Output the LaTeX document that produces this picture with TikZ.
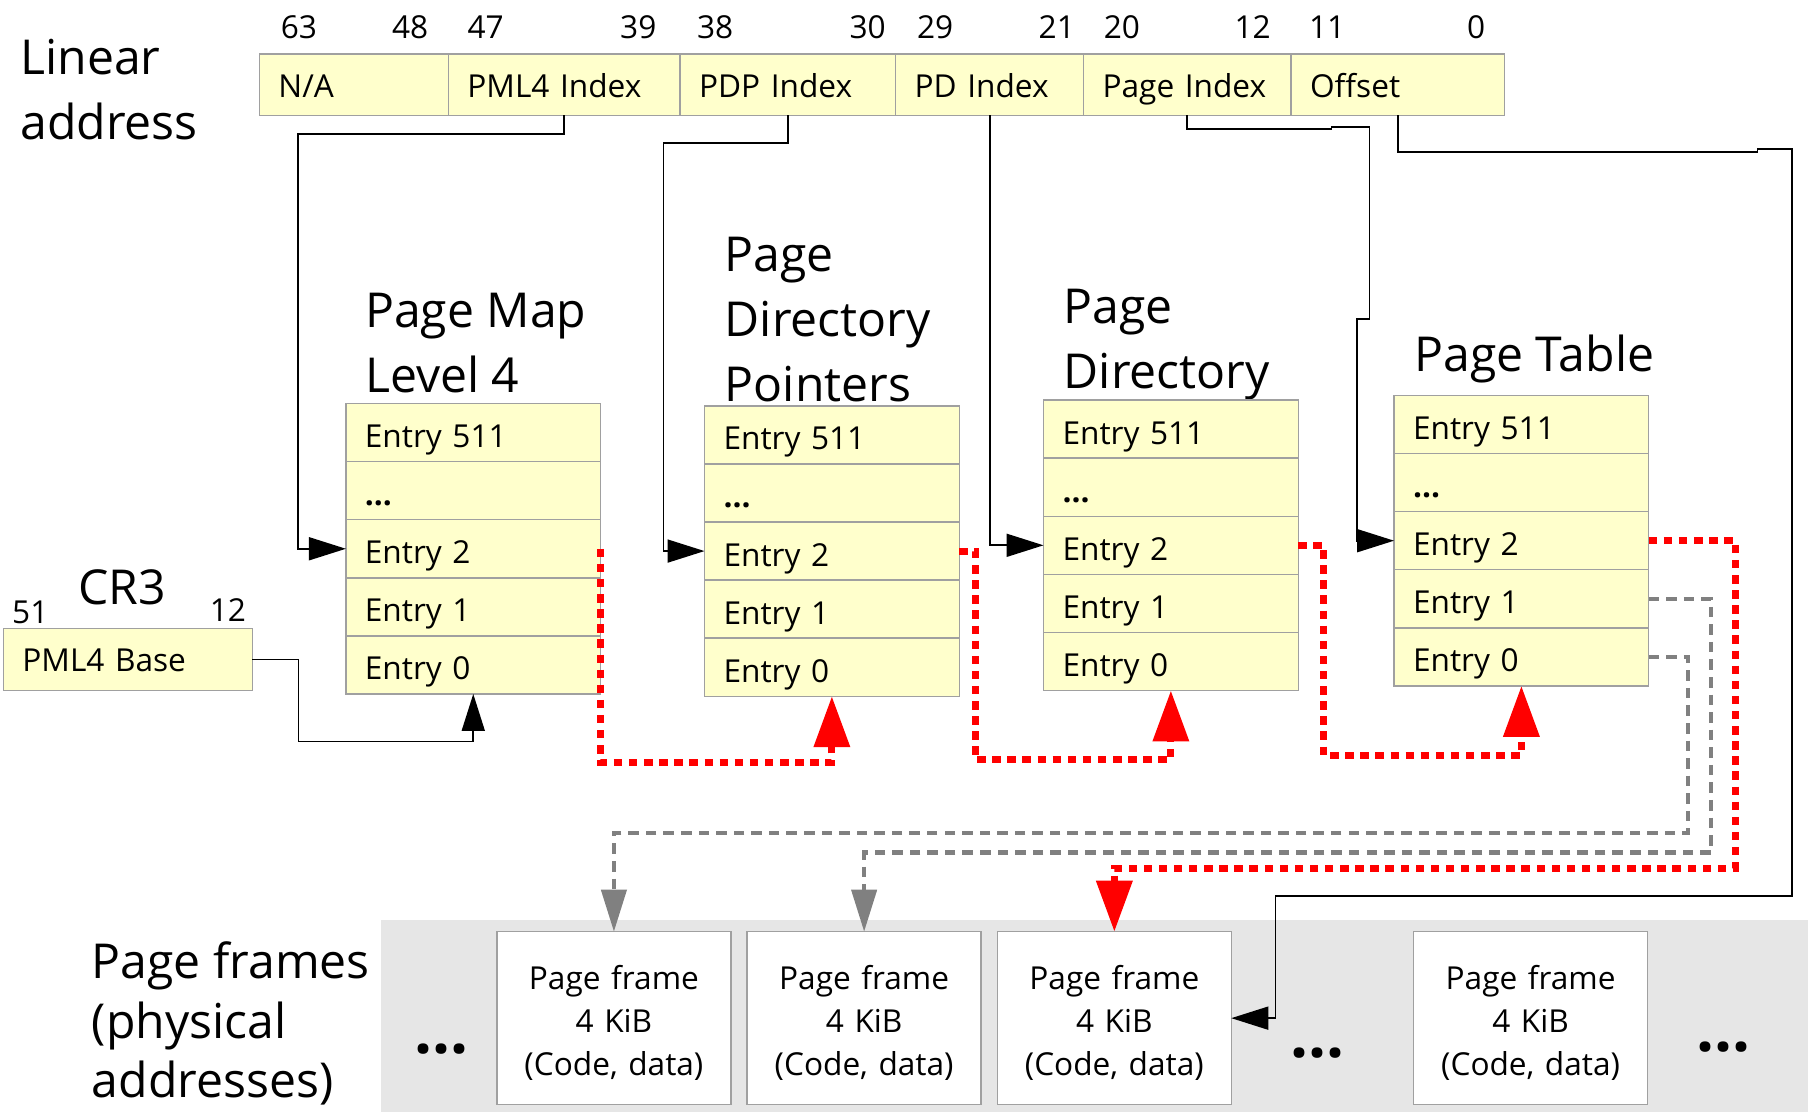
\documentclass[tikz,border=0pt]{standalone}
\usepackage{fontspec}
\setmainfont{Open Sans}
\usetikzlibrary{positioning, calc, arrows.meta}
\definecolor{colour_entry}{HTML}{FFFFCC}
\definecolor{colour_border}{HTML}{A0A0A0}
\definecolor{colour_back}{HTML}{E6E6E6}
\definecolor{colour_spare}{HTML}{808080}
\definecolor{colour_walk}{HTML}{FF0000}

\begin{document}
\begin{tikzpicture}[
    x=0.011531cm, y=-0.011531cm,
    font=\fontsize{9}{12.2}\selectfont,
    field/.style={rectangle, draw=colour_border, fill=colour_entry, outer sep=0pt,
                  inner xsep=0.19cm, inner ysep=0pt, minimum height=0.611cm,
                  text height=7pt, text depth=0pt, text width=#1, align=left},
    entry/.style={rectangle, draw=colour_border, fill=colour_entry, outer sep=0pt,
                  inner xsep=0.19cm, inner ysep=0pt, minimum height=0.581cm,
                  text height=8.5pt, text depth=0pt, text width=2.168cm, align=left},
    heading/.style={font=\fontsize{13.7}{18.5}\selectfont, align=left, inner sep=0pt},
    bit/.style={inner sep=0pt},
    pageframe/.style={rectangle, draw=colour_border, fill=white, outer sep=0pt,
                      inner xsep=0.12cm, minimum width=2.34cm, minimum height=1.73cm,
                      text width=2.1cm, align=center,
                      execute at begin node=\rule{0pt}{9.4pt}},
    more/.style={font=\fontsize{18}{20}\selectfont\bfseries, inner sep=0pt},
    link/.style={draw=black, line width=0.5pt,
                 -{Triangle[length=0.37cm, width=0.23cm]}},
    walk/.style={draw=colour_walk, line width=2pt, dash pattern=on 2.4pt off 1.9pt,
                 -{Triangle[length=0.51cm, width=0.35cm]}},
    spare/.style={draw=colour_spare, line width=1.2pt, dash pattern=on 3pt off 2pt,
                  -{Triangle[length=0.42cm, width=0.25cm]}}
]
\useasboundingbox (0,0) rectangle (1568,964);

% Physical memory strip
\fill[colour_back] (330,798) rectangle (1568,964);

% Linear address fields
\node[heading, anchor=base west] (linear) at (17,121) {Linear\\address};
\node[field=1.511cm, anchor=north west] (na) at (225,47) {N/A};
\node[field=1.938cm, right=0pt of na] (pml4idx) {PML4 Index};
\node[field=1.776cm, right=0pt of pml4idx] (pdpidx) {PDP Index};
\node[field=1.500cm, right=0pt of pdpidx] (pdidx) {PD Index};
\node[field=1.696cm, right=0pt of pdidx] (ptidx) {Page Index};
\node[field=1.753cm, right=0pt of ptidx] (offset) {Offset};

% Bit numbers
\node[bit, anchor=base west] (b63) at ($(na.north west)+(18,-14)$) {63};
\node[bit, anchor=base east] (b48) at ($(na.north east)+(-17,-14)$) {48};
\node[bit, anchor=base west] (b47) at ($(pml4idx.north west)+(16,-14)$) {47};
\node[bit, anchor=base east] (b39) at ($(pml4idx.north east)+(-20,-14)$) {39};
\node[bit, anchor=base west] (b38) at ($(pdpidx.north west)+(14,-14)$) {38};
\node[bit, anchor=base east] (b30) at ($(pdpidx.north east)+(-8,-14)$) {30};
\node[bit, anchor=base west] (b29) at ($(pdidx.north west)+(18,-14)$) {29};
\node[bit, anchor=base east] (b21) at ($(pdidx.north east)+(-7,-14)$) {21};
\node[bit, anchor=base west] (b20) at ($(ptidx.north west)+(17,-14)$) {20};
\node[bit, anchor=base east] (b12) at ($(ptidx.north east)+(-17,-14)$) {12};
\node[bit, anchor=base west] (b11) at ($(offset.north west)+(15,-14)$) {11};
\node[bit, anchor=base east] (b0) at ($(offset.north east)+(-16,-14)$) {0};

% CR3
\node[field=2.111cm, minimum height=0.623cm, anchor=north west] (cr3) at (3,545) {PML4 Base};
\node[heading, anchor=base] (cr3title) at (106,524) {CR3};
\node[bit, anchor=base west] (b51) at ($(cr3.north west)+(7,-4)$) {51};
\node[bit, anchor=base east] (b12cr) at ($(cr3.north east)+(-5,-6)$) {12};

% Page Map Level 4
\node[heading, anchor=base west] (pml4title) at (316,340) {Page Map\\Level 4};
\node[entry, anchor=north west] (pml4-511) at (300,350) {Entry 511};
\node[entry, below=0pt of pml4-511] (pml4-dots) {\textbf{...}};
\node[entry, below=0pt of pml4-dots] (pml4-2) {Entry 2};
\node[entry, below=0pt of pml4-2] (pml4-1) {Entry 1};
\node[entry, below=0pt of pml4-1] (pml4-0) {Entry 0};

% Page Directory Pointers
\node[heading, anchor=base west] (pdptitle) at (628,348) {Page\\Directory\\Pointers};
\node[entry, anchor=north west] (pdp-511) at (611,352) {Entry 511};
\node[entry, below=0pt of pdp-511] (pdp-dots) {\textbf{...}};
\node[entry, below=0pt of pdp-dots] (pdp-2) {Entry 2};
\node[entry, below=0pt of pdp-2] (pdp-1) {Entry 1};
\node[entry, below=0pt of pdp-1] (pdp-0) {Entry 0};

% Page Directory
\node[heading, anchor=base west] (pdtitle) at (922,337) {Page\\Directory};
\node[entry, anchor=north west] (pd-511) at (905,347) {Entry 511};
\node[entry, below=0pt of pd-511] (pd-dots) {\textbf{...}};
\node[entry, below=0pt of pd-dots] (pd-2) {Entry 2};
\node[entry, below=0pt of pd-2] (pd-1) {Entry 1};
\node[entry, below=0pt of pd-1] (pd-0) {Entry 0};

% Page Table
\node[heading, anchor=base west] (pttitle) at (1226,322) {Page Table};
\node[entry, anchor=north west] (pt-511) at (1209,343) {Entry 511};
\node[entry, below=0pt of pt-511] (pt-dots) {\textbf{...}};
\node[entry, below=0pt of pt-dots] (pt-2) {Entry 2};
\node[entry, below=0pt of pt-2] (pt-1) {Entry 1};
\node[entry, below=0pt of pt-1] (pt-0) {Entry 0};

% Page frames
\node[heading, font=\fontsize{13.7}{16.9}\selectfont, anchor=base west] (frametitle)
    at (79,952) {Page frames\\(physical\\addresses)};
\node[pageframe, anchor=north west] (pf1) at (431,808) {Page frame\\4 KiB\\(Code, data)};
\node[pageframe, anchor=north west] (pf2) at (648,808) {Page frame\\4 KiB\\(Code, data)};
\node[pageframe, anchor=north west] (pf3) at (865,808) {Page frame\\4 KiB\\(Code, data)};
\node[pageframe, anchor=north west] (pf4) at (1226,808) {Page frame\\4 KiB\\(Code, data)};
\node[more] (more1) at (383,910) {...};
\node[more] (more2) at (1143,913) {...};
\node[more] (more3) at (1495,908) {...};

% Index lookups
\draw[link] (pml4idx.south) -- ++(0,16) -- ++(-231,0) |- (pml4-2.west);
\draw[link] (pdpidx.south) -- ++(0,24) -- ++(-108,0) |- (pdp-2.west);
\draw[link] (pdidx.south) |- (pd-2.west);
\draw[link] (ptidx.south) -- ++(0,12) -- ++(125,0) -- ++(0,-2) -- ++(33,0)
    -- ++(0,167) -- ++(-11,0) |- (pt-2.west);
\draw[link] (offset.south) -- ++(0,32) -- ++(312,0) -- ++(0,-3) -- ++(30,0)
    -- ++(0,648) -- ++(-448,0) |- (pf3.east);
\draw[link] (cr3.east) -- ++(40,0) -- ++(0,71) -| (pml4-0.south);

% Table walk
\draw[walk] (pml4-2.east) -- ++(0,185) -| (pdp-0.south);
\draw[walk] (pdp-2.east) -- ++(14,0) -- ++(0,181) -| (pd-0.south);
\draw[walk] (pd-2.east) -- ++(22,0) -- ++(0,182) -| (pt-0.south);
\draw[walk] (pt-2.east) -- ++(75,0) -- ++(0,284) -| (pf3.north);

% Other entries
\draw[spare] (pt-1.east) -- ++(54,0) -- ++(0,220) -| (pf2.north);
\draw[spare] (pt-0.east) -- ++(34,0) -- ++(0,153) -| (pf1.north);

\end{tikzpicture}
\end{document}
